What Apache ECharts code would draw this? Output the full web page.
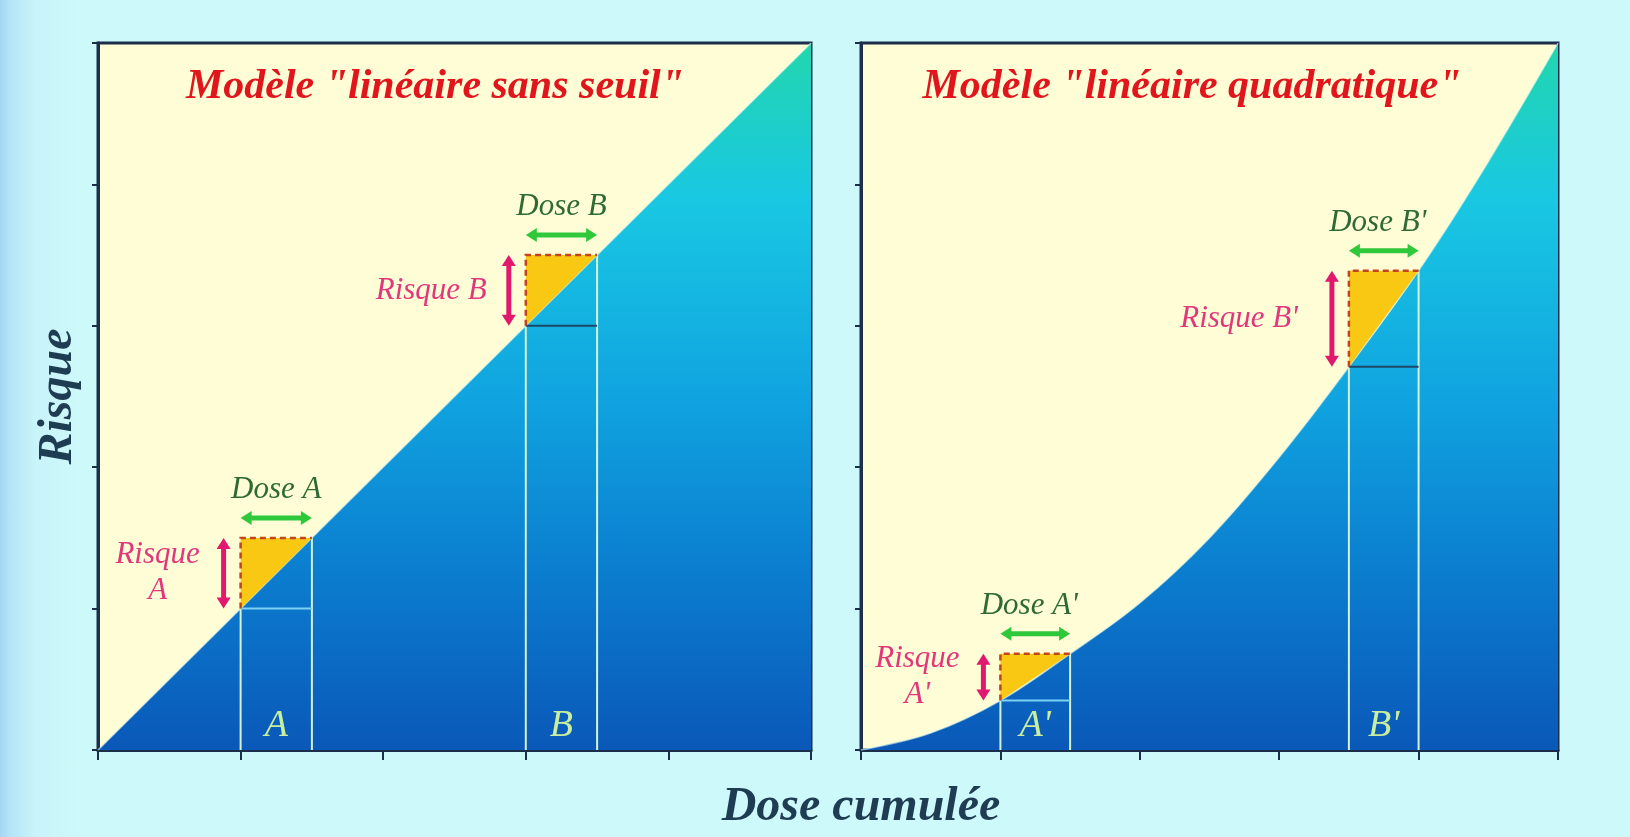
<!DOCTYPE html>
<html><head><meta charset="utf-8">
<script src="https://cdn.jsdelivr.net/npm/echarts@6/dist/echarts.min.js"></script>
<style>
html,body{margin:0;padding:0;width:1630px;height:837px;overflow:hidden;}
body{background:linear-gradient(to right,#a4d6f3 0px,#b4e4f7 10px,#c8f4fa 35px,#cdf9fb 80px,#cdf9fb 100%);}
#chart{width:1630px;height:837px;}
</style></head><body><div id="chart"></div>
<script>
// ---- data ----
const doseTicks = [0, 1, 2, 3, 4, 5];
const linDose = [0, 5];
const linRisk = [0, 5];
const quadDose = [0, 0.5, 1, 1.5, 2, 2.5, 3, 3.5, 4, 4.5, 5];
const quadRisk = [0, 0.12, 0.35, 0.68, 1.04, 1.5, 2.07, 2.71, 3.39, 4.16, 5];
const linStart = [1, 3];
const linEnd = [1.5, 3.5];
const linRiskStart = [1, 3];
const linRiskEnd = [1.5, 3.5];
const linLetters = ['A', 'B'];
const linDoseLabels = ['Dose A', 'Dose B'];
const linRiskLabels = ['Risque\nA', 'Risque B'];
const quadStart = [1, 3.5];
const quadEnd = [1.5, 4];
const quadRiskStart = [0.35, 2.71];
const quadRiskEnd = [0.68, 3.39];
const quadLetters = ["A'", "B'"];
const quadDoseLabels = ["Dose A'", "Dose B'"];
const quadRiskLabels = ["Risque\nA'", "Risque B'"];
const titles = ['Modèle "linéaire sans seuil"', 'Modèle "linéaire quadratique"'];
const xName = 'Dose cumulée';
const yName = 'Risque';

// ---- styles ----
const NAVY = '#1b2f4a';
const SERIF = '"Liberation Serif", "DejaVu Serif", serif';
const GREEN_ARROW = '#2fc83a';
const MAGENTA = '#e0196e';

function areaGradient() {
  return new echarts.graphic.LinearGradient(0, 0, 0, 1, [
    { offset: 0, color: '#22d6ae' },
    { offset: 0.22, color: '#19c8e2' },
    { offset: 0.5, color: '#10a4e0' },
    { offset: 0.75, color: '#0b7dcf' },
    { offset: 1, color: '#0a58b8' }
  ]);
}

function hArrow(xa, xb, y, color) {
  const h = 11, w = 7;
  return [
    { type: 'line', shape: { x1: xa + h - 2, y1: y, x2: xb - h + 2, y2: y }, style: { stroke: color, lineWidth: 5 } },
    { type: 'polygon', shape: { points: [[xa, y], [xa + h, y - w], [xa + h, y + w]] }, style: { fill: color } },
    { type: 'polygon', shape: { points: [[xb, y], [xb - h, y - w], [xb - h, y + w]] }, style: { fill: color } }
  ];
}
function vArrow(x, ya, yb, color) {
  const h = 11, w = 7;
  return [
    { type: 'line', shape: { x1: x, y1: ya + h - 2, x2: x, y2: yb - h + 2 }, style: { stroke: color, lineWidth: 5 } },
    { type: 'polygon', shape: { points: [[x, ya], [x - w, ya + h], [x + w, ya + h]] }, style: { fill: color } },
    { type: 'polygon', shape: { points: [[x, yb], [x - w, yb - h], [x + w, yb - h]] }, style: { fill: color } }
  ];
}

function makeRender(letters, doseLabels, riskLabels, riskGap, doseShift) {
  return function (params, api) {
    const i = params.dataIndex;
    const x0 = api.value(0), x1 = api.value(1), r0 = api.value(2), r1 = api.value(3);
    const b0 = api.coord([x0, 0]);
    const b1 = api.coord([x1, 0]);
    const pA = api.coord([x0, r0]);
    const pB = api.coord([x0, r1]);
    const pC = api.coord([x1, r1]);
    const pE = api.coord([x1, r0]);
    const midX = (pB[0] + pC[0]) / 2;
    const arrowX = pB[0] - 17;
    const midY = (pA[1] + pB[1]) / 2;
    const children = [
      { type: 'polygon', shape: { points: [pA, pB, pC] }, style: { fill: '#f9c813' } },
      { type: 'line', shape: { x1: b0[0], y1: b0[1], x2: pA[0], y2: pA[1] }, style: { stroke: '#d4f2cf', lineWidth: 2 } },
      { type: 'line', shape: { x1: b1[0], y1: b1[1], x2: pC[0], y2: pC[1] }, style: { stroke: '#d4f2cf', lineWidth: 2 } },
      { type: 'line', shape: { x1: pA[0], y1: pA[1], x2: pE[0], y2: pE[1] }, style: { stroke: i === 0 ? '#7cd2f2' : '#1d4868', lineWidth: 2 } },
      { type: 'polyline', shape: { points: [pA, pB, pC] }, style: { stroke: '#c2441c', lineWidth: 2.5, lineDash: [6, 4], fill: null } }
    ];
    hArrow(pB[0], pC[0], pB[1] - 20, GREEN_ARROW).forEach(e => children.push(e));
    vArrow(arrowX, pB[1], pA[1], MAGENTA).forEach(e => children.push(e));
    children.push({ type: 'text', x: midX + doseShift, y: pB[1] - 48, style: {
      text: doseLabels[i], fontFamily: SERIF, fontStyle: 'italic', fontSize: 31, fill: '#2f6a34',
      align: 'center', verticalAlign: 'middle' } });
    const rl = riskLabels[i];
    const twoLine = rl.indexOf('\n') >= 0;
    children.push({ type: 'text', x: twoLine ? arrowX - 66 : arrowX - riskGap, y: midY, style: {
      text: rl, fontFamily: SERIF, fontStyle: 'italic', fontSize: 31, lineHeight: 36, fill: '#e0387c',
      align: twoLine ? 'center' : 'right', verticalAlign: 'middle' } });
    children.push({ type: 'text', x: midX, y: b0[1] - 24, style: {
      text: letters[i], fontFamily: SERIF, fontStyle: 'italic', fontSize: 38, fill: '#c8eea2',
      align: 'center', verticalAlign: 'middle' } });
    return { type: 'group', children: children };
  };
}

function axisPair(idx, withName) {
  const x = {
    type: 'value', gridIndex: idx, min: doseTicks[0], max: doseTicks[doseTicks.length - 1], interval: 1,
    axisLine: { show: true, lineStyle: { color: NAVY, width: 3 } },
    axisTick: { show: true, inside: false, length: 10, lineStyle: { color: NAVY, width: 2 } },
    axisLabel: { show: false }, splitLine: { show: false }
  };
  const y = {
    type: 'value', gridIndex: idx, min: doseTicks[0], max: doseTicks[doseTicks.length - 1], interval: 1,
    axisLine: { show: true, lineStyle: { color: NAVY, width: 3 } },
    axisTick: { show: true, inside: false, length: 6, lineStyle: { color: NAVY, width: 2 } },
    axisLabel: { show: false }, splitLine: { show: false }
  };
  if (withName) {
    y.name = yName;
    y.nameLocation = 'middle';
    y.nameRotate = 90;
    y.nameGap = 15;
    y.nameTextStyle = { fontFamily: SERIF, fontStyle: 'italic', fontWeight: 'bold', fontSize: 48, color: '#1e3c52' };
  }
  return [x, y];
}

const ax0 = axisPair(0, true), ax1 = axisPair(1, false);

const chart = echarts.init(document.getElementById('chart'), null, { renderer: 'canvas' });
chart.setOption({
  animation: false,
  backgroundColor: 'transparent',
  grid: [
    { left: 98, top: 43, width: 713, height: 707, show: true, backgroundColor: '#fffdd6', borderColor: NAVY, borderWidth: 3 },
    { left: 861, top: 43, width: 697, height: 707, show: true, backgroundColor: '#fffdd6', borderColor: NAVY, borderWidth: 3 }
  ],
  xAxis: [ax0[0], ax1[0]],
  yAxis: [ax0[1], ax1[1]],
  graphic: [
    { type: 'text', x: 435, y: 87, z: 100, style: { text: titles[0], fontFamily: SERIF, fontStyle: 'italic', fontWeight: 'bold', fontSize: 42, fill: '#e0161c', align: 'center', verticalAlign: 'middle' } },
    { type: 'text', x: 1192, y: 87, z: 100, style: { text: titles[1], fontFamily: SERIF, fontStyle: 'italic', fontWeight: 'bold', fontSize: 42, fill: '#e0161c', align: 'center', verticalAlign: 'middle' } },
    { type: 'text', x: 861, y: 808, z: 100, style: { text: xName, fontFamily: SERIF, fontStyle: 'italic', fontWeight: 'bold', fontSize: 48, fill: '#1e3c52', align: 'center', verticalAlign: 'middle' } }
  ],
  series: [
    {
      type: 'line', xAxisIndex: 0, yAxisIndex: 0, z: 2, showSymbol: false,
      data: linDose.map((d, i) => [d, linRisk[i]]),
      lineStyle: { width: 1.5, color: '#e8fbf0', opacity: 0.6 },
      areaStyle: { color: areaGradient(), opacity: 1 }
    },
    {
      type: 'line', xAxisIndex: 1, yAxisIndex: 1, z: 2, showSymbol: false, smooth: 0.35,
      data: quadDose.map((d, i) => [d, quadRisk[i]]),
      lineStyle: { width: 1.5, color: '#e8fbf0', opacity: 0.6 },
      areaStyle: { color: areaGradient(), opacity: 1 }
    },
    {
      type: 'custom', xAxisIndex: 0, yAxisIndex: 0, z: 5, clip: false,
      encode: { x: [0, 1], y: [2, 3] },
      data: linStart.map((s, i) => [s, linEnd[i], linRiskStart[i], linRiskEnd[i]]),
      renderItem: makeRender(linLetters, linDoseLabels, linRiskLabels, 22, 0)
    },
    {
      type: 'custom', xAxisIndex: 1, yAxisIndex: 1, z: 5, clip: false,
      encode: { x: [0, 1], y: [2, 3] },
      data: quadStart.map((s, i) => [s, quadEnd[i], quadRiskStart[i], quadRiskEnd[i]]),
      renderItem: makeRender(quadLetters, quadDoseLabels, quadRiskLabels, 34, -6)
    }
  ]
});
</script></body></html>
